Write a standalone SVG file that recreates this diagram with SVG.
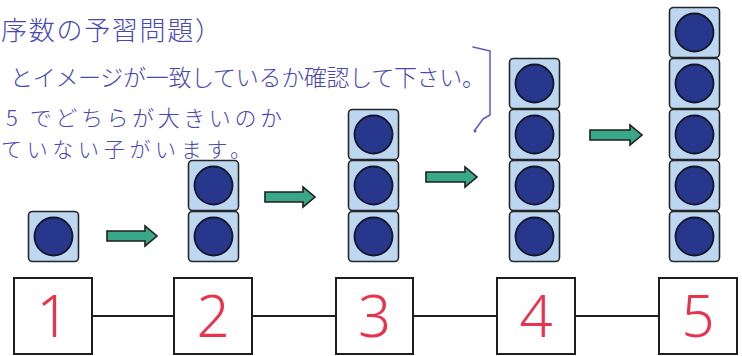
<svg xmlns="http://www.w3.org/2000/svg" xmlns:xlink="http://www.w3.org/1999/xlink" width="742" height="356" viewBox="0 0 742 356">
<style>
.note{font-family:"Noto Sans CJK JP","Noto Sans",sans-serif;fill:#4848b4;font-weight:300}
.box{fill:#fff;stroke:#1e1e1e;stroke-width:2}
.num{font-family:"Noto Sans","Liberation Sans",sans-serif;font-weight:300;fill:#e8334d;font-size:58px;text-anchor:middle}
.link{stroke:#1e1e1e;stroke-width:2;fill:none}
.arrow{fill:#38a888;stroke:#1e1e1e;stroke-width:1.6;stroke-linejoin:miter}
.bracket{fill:none;stroke:#5a5cc4;stroke-width:1.5;stroke-linejoin:round;stroke-linecap:round}
</style>
<defs>
<g id="block">
<rect x="0.5" y="0.5" width="50" height="50" rx="4" fill="#bdd7f0" stroke="#262626" stroke-width="1.6"/>
<circle cx="25.5" cy="25.5" r="19" fill="#27378b" stroke="#15152a" stroke-width="1.8"/>
</g>
</defs>
<rect width="742" height="356" fill="#fff"/>
<g id="notes">
<text class="note" x="1" y="40" font-size="26" textLength="220" lengthAdjust="spacing">序数の予習問題）</text>
<text class="note" x="10" y="86" font-size="23" textLength="475" lengthAdjust="spacing">とイメージが一致しているか確認して下さい。</text>
<text class="note" x="6" y="126" font-size="22" textLength="276" lengthAdjust="spacing">5 でどちらが大きいのか</text>
<text class="note" x="1" y="157" font-size="21" textLength="250" lengthAdjust="spacing">ていない子がいます。</text>
<path class="bracket" d="M473 47 L490 51 L490 115 L483 119 L475 130"/>
<circle cx="475" cy="131" r="1.5" fill="#5a5cc4"/>
</g>
<g id="connectors">
<line class="link" x1="92" y1="316" x2="174" y2="316"/>
<line class="link" x1="252" y1="316" x2="336" y2="316"/>
<line class="link" x1="413" y1="316" x2="497" y2="316"/>
<line class="link" x1="575" y1="316" x2="659" y2="316"/>
<path class="arrow" d="M107 231 H145 V226 L157 236 L145 246 V241 H107 Z"/>
<path class="arrow" d="M265 192 H303 V187 L315 197 L303 207 V202 H265 Z"/>
<path class="arrow" d="M426 172 H465 V167 L477 177 L465 187 V182 H426 Z"/>
<path class="arrow" d="M590 130 H630 V125 L642 135 L630 145 V140 H590 Z"/>
</g>
<g id="stack-1">
<use xlink:href="#block" x="28" y="211"/>
</g>
<g id="stack-2">
<use xlink:href="#block" x="188" y="160"/>
<use xlink:href="#block" x="188" y="211"/>
</g>
<g id="stack-3">
<use xlink:href="#block" x="348" y="109"/>
<use xlink:href="#block" x="348" y="160"/>
<use xlink:href="#block" x="348" y="211"/>
</g>
<g id="stack-4">
<use xlink:href="#block" x="509" y="58"/>
<use xlink:href="#block" x="509" y="109"/>
<use xlink:href="#block" x="509" y="160"/>
<use xlink:href="#block" x="509" y="211"/>
</g>
<g id="stack-5">
<use xlink:href="#block" x="669" y="7"/>
<use xlink:href="#block" x="669" y="58"/>
<use xlink:href="#block" x="669" y="109"/>
<use xlink:href="#block" x="669" y="160"/>
<use xlink:href="#block" x="669" y="211"/>
</g>
<g id="box-1"><rect class="box" x="14" y="278" width="78" height="76"/><text class="num" x="53" y="337">1</text></g>
<g id="box-2"><rect class="box" x="174" y="278" width="78" height="76"/><text class="num" x="213" y="337">2</text></g>
<g id="box-3"><rect class="box" x="336" y="278" width="77" height="76"/><text class="num" x="374.5" y="337">3</text></g>
<g id="box-4"><rect class="box" x="497" y="278" width="78" height="76"/><text class="num" x="536" y="337">4</text></g>
<g id="box-5"><rect class="box" x="659" y="278" width="78" height="76"/><text class="num" x="698" y="337">5</text></g>
</svg>
